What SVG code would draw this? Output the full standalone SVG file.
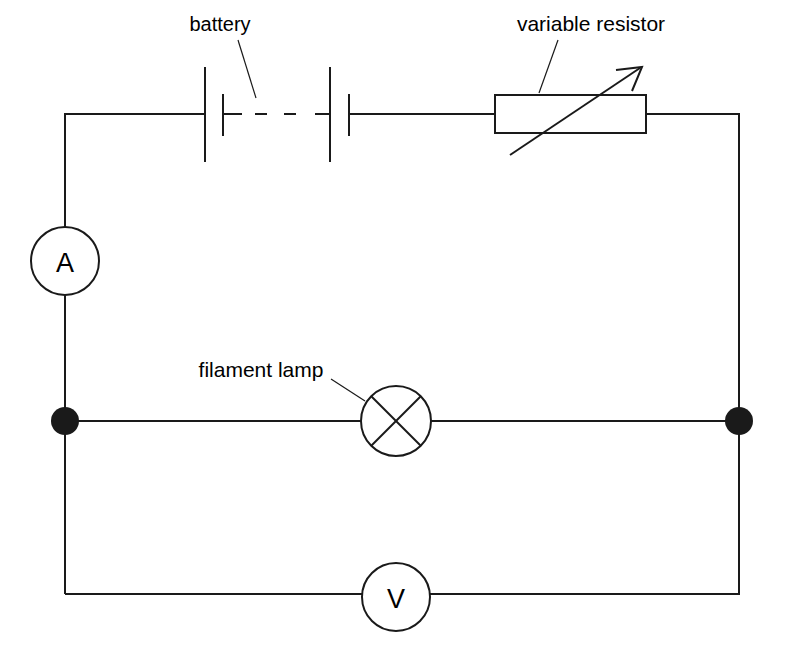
<svg xmlns="http://www.w3.org/2000/svg" width="796" height="647" viewBox="0 0 796 647">
<style>
.w{stroke:#1a1a1a;stroke-width:2;fill:none}
.l{stroke:#1a1a1a;stroke-width:1.2;fill:none}
.c{stroke:#1a1a1a;stroke-width:2;fill:#fff}
text{font-family:"Liberation Sans",Arial,sans-serif;fill:#000}
.t{font-size:21px;text-anchor:middle}
</style>
<rect width="796" height="647" fill="#fff"/>
<g id="connectors">
<polyline class="w" points="205,114 65,114 65,227"/>
<line class="w" x1="65" y1="295" x2="65" y2="594"/>
<polyline class="w" points="65,594 362,594"/>
<polyline class="w" points="430,594 739,594 739,114 646,114"/>
<line class="w" x1="349" y1="114" x2="495" y2="114"/>
<line class="w" x1="65" y1="421" x2="361" y2="421"/>
<line class="w" x1="431" y1="421" x2="739" y2="421"/>
</g>
<g id="battery">
<line class="w" x1="205" y1="67" x2="205" y2="162"/>
<line class="w" x1="223" y1="94" x2="223" y2="136"/>
<line class="w" x1="223" y1="114" x2="242" y2="114"/>
<line class="w" x1="255" y1="114" x2="267" y2="114"/>
<line class="w" x1="284" y1="114" x2="296" y2="114"/>
<line class="w" x1="315" y1="114" x2="330" y2="114"/>
<line class="w" x1="330" y1="67" x2="330" y2="162"/>
<line class="w" x1="349" y1="94" x2="349" y2="136"/>
<line class="l" x1="238" y1="40" x2="256" y2="98"/>
<text class="t" x="220" y="31" style="font-size:20px">battery</text>
</g>
<g id="resistor">
<rect class="w" x="495" y="95" width="151" height="38"/>
<line class="w" x1="510" y1="155" x2="640" y2="68"/>
<polyline class="w" points="616,70 642,67 632,91"/>
<line class="l" x1="558" y1="40" x2="539" y2="93"/>
<text class="t" x="591" y="31">variable resistor</text>
</g>
<g id="ammeter">
<circle class="c" cx="65" cy="261" r="34"/>
<text x="65" y="272" font-size="27" text-anchor="middle">A</text>
</g>
<g id="lamp">
<circle class="c" cx="396" cy="421" r="35"/>
<line class="w" x1="371" y1="396" x2="421" y2="446"/>
<line class="w" x1="421" y1="396" x2="371" y2="446"/>
<line class="l" x1="331" y1="379" x2="365" y2="401"/>
<text class="t" x="261" y="377">filament lamp</text>
</g>
<g id="voltmeter">
<circle class="c" cx="396" cy="597" r="34"/>
<text x="396" y="608" font-size="27" text-anchor="middle">V</text>
</g>
<g id="junctions" fill="#1a1a1a">
<circle cx="65" cy="421" r="14"/>
<circle cx="739" cy="421" r="14"/>
</g>
</svg>
